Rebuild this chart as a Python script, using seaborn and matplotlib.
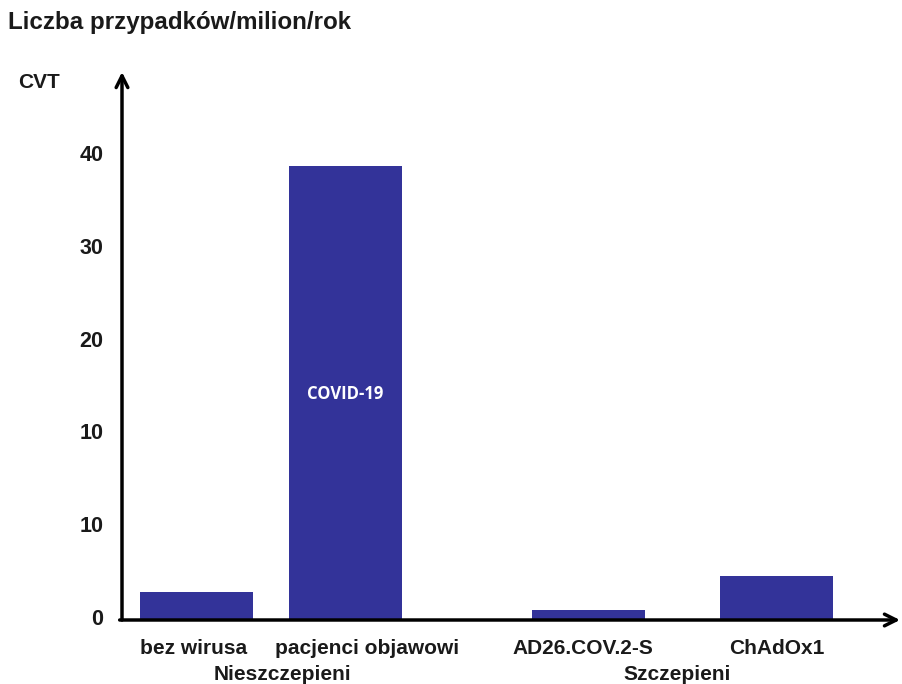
import matplotlib
matplotlib.use("Agg")
import matplotlib.pyplot as plt
import matplotlib.transforms as mtransforms
import seaborn as sns
import pandas as pd

# --- data ---------------------------------------------------------------
categories = ["bez wirusa", "pacjenci objawowi", "AD26.COV.2-S", "ChAdOx1"]
groups = ["Nieszczepieni", "Nieszczepieni", "Szczepieni", "Szczepieni"]
cvt_values = [3.0, 48.9, 1.1, 4.7]
group_names = ["Nieszczepieni", "Szczepieni"]
ytick_values = [0, 10, 20, 30, 40, 50]
ytick_labels = ["0", "10", "10", "20", "30", "40"]

# --- layout (horizontal placement of bars and labels) --------------------
bar_x = [75, 223.5, 467, 654.5]
label_x = [72, 245, 461, 655]
group_x = [160, 555]

W, H = 903, 684
BAR_COLOR = "#333399"
TEXT_COLOR = "#1a1a1a"
FONT = "Liberation Sans"

sns.set_theme(style="white")
plt.rcParams["font.family"] = [FONT, "DejaVu Sans"]

df = pd.DataFrame({"x": bar_x, "value": cvt_values, "category": categories})

fig = plt.figure(figsize=(W / 100, H / 100), dpi=100)
ax_left, ax_bottom, ax_right, ax_top = 122, 620, 900, 72
ax = fig.add_axes([ax_left / W, (H - ax_bottom) / H,
                   (ax_right - ax_left) / W, (ax_bottom - ax_top) / H])

sns.barplot(data=df, x="x", y="value", native_scale=True, width=113 / 148.5,
            color=BAR_COLOR, saturation=1, linewidth=0, ax=ax)

px_per_unit = 9.28
ax.set_xlim(0, ax_right - ax_left)
ax.set_ylim(0, (ax_bottom - ax_top) / px_per_unit)

for s in ax.spines.values():
    s.set_visible(False)

ax.set_xticks([])
ax.set_yticks(ytick_values)
ax.set_yticklabels(ytick_labels, fontsize=15.5, fontweight="bold", color=TEXT_COLOR)
ax.tick_params(axis="y", length=0, pad=13.5)
lift = mtransforms.ScaledTranslation(0, 3 / 100, fig.dpi_scale_trans)
for lbl in ax.get_yticklabels():
    lbl.set_transform(lbl.get_transform() + lift)
ax.set_xlabel("")
ax.set_ylabel("")

# axis arrows
ax.annotate("", xy=(0, 1.0), xytext=(0, 0), xycoords="axes fraction",
            arrowprops=dict(arrowstyle="->,head_length=0.7,head_width=0.35",
                            color="black", lw=2.5, shrinkA=0, shrinkB=0))
ax.annotate("", xy=(1.0, 0), xytext=(-0.003, 0), xycoords="axes fraction",
            arrowprops=dict(arrowstyle="->,head_length=0.7,head_width=0.35",
                            color="black", lw=2.5, shrinkA=0, shrinkB=0))

# category labels
for xl, name in zip(label_x, categories):
    ax.annotate(name, xy=(xl, 0), xycoords=("data", "data"),
                xytext=(0, -29), textcoords="offset pixels",
                ha="center", va="center", fontsize=15, fontweight="bold",
                color=TEXT_COLOR)

# group labels along the bottom edge
for gx, g in zip(group_x, group_names):
    ax.annotate(g, xy=(gx, 0), xycoords=("data", "data"),
                xytext=(0, -54), textcoords="offset pixels",
                ha="center", va="center", fontsize=15, fontweight="bold",
                color=TEXT_COLOR)

# label inside the COVID-19 bar
ax.text(bar_x[1], 24.3, "COVID-19", ha="center", va="center", color="white",
        fontsize=12, fontweight="bold", family=["Open Sans", "DejaVu Sans"])

# titles
fig.text(8 / W, 1 - 23 / H, "Liczba przypadków/milion/rok", ha="left",
         va="center", fontsize=17.4, fontweight="bold", color=TEXT_COLOR)
fig.text(18 / W, 1 - 83 / H, "CVT", ha="left", va="center", fontsize=15,
         fontweight="bold", color=TEXT_COLOR)

fig.savefig("out.png", dpi=100)
